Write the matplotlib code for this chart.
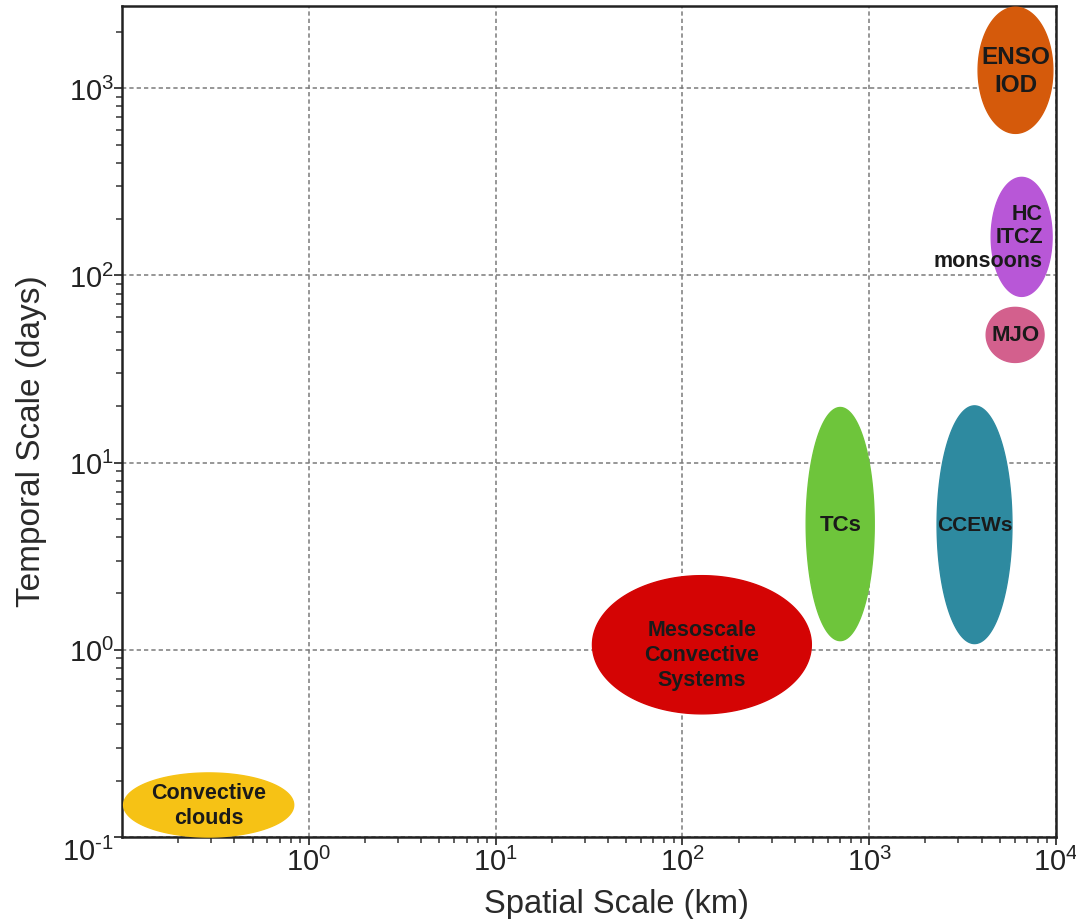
import numpy as np
import matplotlib
matplotlib.use('Agg')
import matplotlib.pyplot as plt
from matplotlib.ticker import LogLocator, FixedLocator, NullFormatter

plt.rcParams['font.family'] = ['Liberation Sans', 'DejaVu Sans']
plt.rcParams['mathtext.fontset'] = 'custom'
plt.rcParams['mathtext.rm'] = 'Liberation Sans'
plt.rcParams['mathtext.it'] = 'Liberation Sans'
plt.rcParams['mathtext.bf'] = 'Liberation Sans:bold'

# phenomena: spatial range (km) and temporal range (days)
names = ['Convective\nclouds', 'Mesoscale\nConvective\nSystems', 'TCs', 'CCEWs',
         'ENSO\nIOD', 'HC\nITCZ\nmonsoons', 'MJO']
x_min = [0.102, 33, 460, 2310, 3830, 4500, 4230]
x_max = [0.83, 490, 1064, 5810, 9620, 9530, 8630]
y_min = [0.1, 0.455, 1.12, 1.08, 574, 77.3, 34.3]
y_max = [0.22, 2.49, 19.7, 20.1, 2710, 334, 67.5]
colors = ['#F6C215', '#D40404', '#6EC53B', '#2E8AA0', '#D55A0B', '#B857D7', '#D3608D']
label_sizes = [15.5, 15.5, 16, 15, 17.5, 15.5, 16]

x_ticks = [1, 10, 100, 1000, 10000]
y_ticks = [0.1, 1, 10, 100, 1000]

fig = plt.figure(figsize=(10.76, 9.2), dpi=100)
ax = fig.add_axes([0.1134, 0.0891, 0.868, 0.9033])
ax.set_xscale('log')
ax.set_yscale('log')
ax.set_xlim(0.1, 1e4)
ax.set_ylim(0.1, 2750)

t = np.linspace(0, 2 * np.pi, 300)
for i, name in enumerate(names):
    lx0, lx1 = np.log10(x_min[i]), np.log10(x_max[i])
    ly0, ly1 = np.log10(y_min[i]), np.log10(y_max[i])
    cx, cy = (lx0 + lx1) / 2, (ly0 + ly1) / 2
    a, b = (lx1 - lx0) / 2, (ly1 - ly0) / 2
    ax.fill(10 ** (cx + a * np.cos(t)), 10 ** (cy + b * np.sin(t)),
            color=colors[i], zorder=3, clip_on=False)
    if 'monsoons' in name:
        # this one is right aligned and spills out of the ellipse
        ax.text(10 ** (cx + a * 0.7), 10 ** cy, name, ha='right', va='center',
                multialignment='right', fontsize=label_sizes[i], fontweight='bold',
                color='#1a1a1a', linespacing=1.15, zorder=4)
    else:
        dy = -0.05 if 'Systems' in name else 0
        ax.text(10 ** cx, 10 ** (cy + dy), name, ha='center', va='center',
                fontsize=label_sizes[i], fontweight='bold', color='#1a1a1a',
                linespacing=1.25, zorder=4)

# ticks
ax.xaxis.set_major_locator(FixedLocator(x_ticks))
ax.set_xticklabels([r'$10^{%d}$' % np.log10(v) for v in x_ticks])
ax.yaxis.set_major_locator(FixedLocator(y_ticks))
ylabels = [r'$10^{%d}$' % np.log10(v) for v in y_ticks]
ylabels[0] = r'$10^{\text{-}1}$'
ax.set_yticklabels(ylabels)
ax.xaxis.set_minor_locator(LogLocator(base=10, subs=np.arange(2, 10), numticks=20))
ax.yaxis.set_minor_locator(LogLocator(base=10, subs=np.arange(2, 10), numticks=20))
ax.xaxis.set_minor_formatter(NullFormatter())
ax.yaxis.set_minor_formatter(NullFormatter())
ax.tick_params(which='both', direction='out', top=False, right=False,
               color='#333333', labelsize=21, labelcolor='#222222')
ax.tick_params(which='major', length=6, width=1.3)
ax.tick_params(which='minor', length=4.5, width=1.1)
ax.tick_params(axis='y', pad=0)
ax.tick_params(axis='x', pad=1)
ax.get_yticklabels()[0].set_va('top')

for s in ax.spines.values():
    s.set_linewidth(1.8)
    s.set_color('#222222')

ax.grid(True, which='major', color='#7a7a7a', linestyle=(0, (2.8, 2)), linewidth=1.1, zorder=1)
ax.set_axisbelow(True)

ax.set_xlabel('Spatial Scale (km)', fontsize=23.5, color='#2a2a2a')
ax.set_ylabel('Temporal Scale (days)', fontsize=24, color='#2a2a2a')
ax.xaxis.set_label_coords(0.529, -0.061)
ax.yaxis.set_label_coords(-0.080, 0.477)

fig.savefig('out.png', dpi=100)
